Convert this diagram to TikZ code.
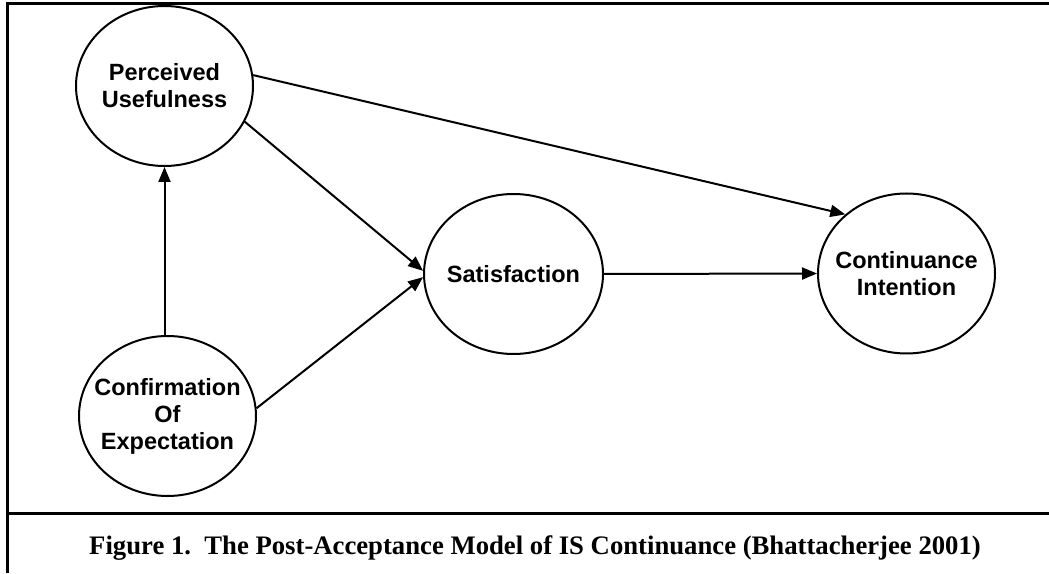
\documentclass[tikz,border=0pt]{standalone}
\usepackage{fontspec}
\setmainfont{Liberation Serif}
\newfontfamily\arialfont{Liberation Sans}
\usetikzlibrary{arrows.meta,shapes.geometric}
\tikzset{
  construct/.style={draw, line width=2pt, ellipse, minimum width=177pt, minimum height=160pt, inner sep=0pt},
  ctext/.style={align=center, inner sep=0pt, font=\arialfont\bfseries\fontsize{23.5}{27}\selectfont},
  arr/.style={line width=2pt, -{Triangle[length=15pt,width=12pt]}},
  frame/.style={line width=3pt}
}
\begin{document}
\begin{tikzpicture}[x=1pt,y=1pt]
\useasboundingbox (0,0) rectangle (1049,573);
% frame
\coordinate (tl) at (7,569);
\coordinate (bl) at (7,0);
\coordinate (tr) at (1049,569);
\coordinate (dl) at (7,60);
\coordinate (dr) at (1049,60);
\draw[frame] (bl) -- (tl) -- (tr);
\draw[frame] (dl) -- (dr);
% nodes
\node[construct, label={[ctext]center:{Perceived\\Usefulness}}] (pu) at (164.5,487) {};
\node[construct, label={[ctext]center:{Confirmation\\Of\\Expectation}}] (conf) at (167.5,157) {};
\node[construct, minimum width=179pt, label={[ctext]center:{Satisfaction}}] (sat) at (513.5,299) {};
\node[construct, label={[ctext]center:{Continuance\\Intention}}] (ci) at (906.5,299.5) {};
% connectors
\draw[arr] (pu.south |- conf.north) -- (pu.south);
\draw[arr] (pu.7) -- (ci.136);
\draw[arr] (pu.-24) -- (sat.178);
\draw[arr] (conf.5) -- (sat.182);
\draw[arr] (sat.east) -- (ci.west);
% caption
\node[font=\bfseries\fontsize{26.7}{30}\selectfont, anchor=base] (cap) at (535,19) {Figure 1.\ \ The Post-Acceptance Model of IS Continuance (Bhattacherjee 2001)};
\end{tikzpicture}
\end{document}
